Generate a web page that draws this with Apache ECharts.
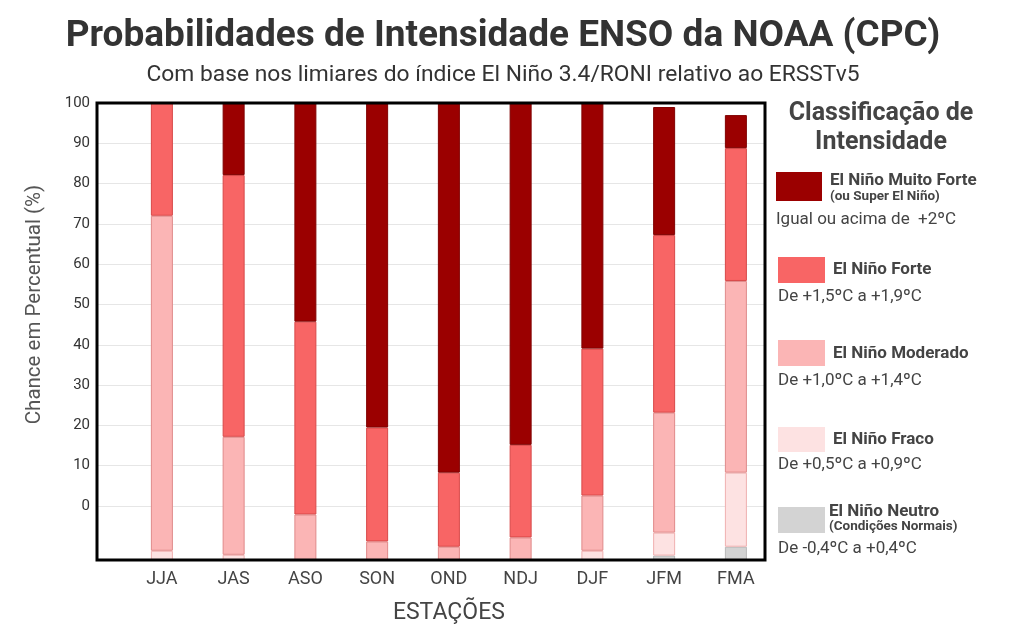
<!DOCTYPE html>
<html><head><meta charset="utf-8">
<script src="https://cdn.jsdelivr.net/npm/echarts@6/dist/echarts.min.js"></script>
<style>html,body{margin:0;padding:0;background:#fff}#c{width:1013px;height:644px}</style>
</head><body><div id="c"></div>
<script>
const categories = ['JJA','JAS','ASO','SON','OND','NDJ','DJF','JFM','FMA'];
// segment heights in axis units, stacked from the chart floor (-13.5)
const floorOffset = [-13.5,-13.5,-13.5,-13.5,-13.5,-13.5,-13.5,-13.5,-13.5];
const neutro     = [0, 0, 0, 0, 0, 0, 0, 1.1, 3.3];
const fraco      = [2.3, 1.3, 0, 0, 0, 0, 2.3, 5.7, 18.4];
const moderado   = [83.2, 29.3, 11.3, 4.6, 3.3, 5.6, 13.7, 29.8, 47.6];
const forte      = [28, 65, 47.9, 28.3, 18.4, 23, 36.5, 44.1, 33];
const muitoForte = [0, 17.9, 54.3, 80.6, 91.8, 84.9, 61, 31.8, 8.2];
const yTicks = [0,10,20,30,40,50,60,70,80,90,100];

const FONT = 'Roboto';
function seg(name, data, color, border){
  return {name, type:'bar', stack:'s', stackStrategy:'all', data, xAxisIndex:2, yAxisIndex:2,
    barWidth:22, itemStyle:{color, borderColor:border, borderWidth:1}};
}
const legendItems = [
  {y:172,h:29,x:776,w:46,c:'#9b0000',t1:'El Niño Muito Forte',t1y:181,t2:'(ou Super El Niño)',t2y:197,tx:830,r:'Igual ou acima de  +2ºC',rx:776,ry:220},
  {y:257,h:26,x:778,w:47,c:'#f86565',t1:'El Niño Forte',t1y:270,tx:833,r:'De +1,5ºC a +1,9ºC',rx:778,ry:297},
  {y:340,h:26,x:778,w:47,c:'#fbb5b5',t1:'El Niño Moderado',t1y:354,tx:833,r:'De +1,0ºC a +1,4ºC',rx:778,ry:381},
  {y:427,h:25,x:778,w:47,c:'#fde2e2',t1:'El Niño Fraco',t1y:440,tx:833,r:'De +0,5ºC a +0,9ºC',rx:778,ry:465},
  {y:507,h:26,x:778,w:47,c:'#d3d3d3',t1:'El Niño Neutro',t1y:512,t2:'(Condições Normais)',t2y:527,tx:829,r:'De -0,4ºC a +0,4ºC',rx:778,ry:549}
];
const graphics = [
  {type:'text',x:503,y:37,style:{text:'Probabilidades de Intensidade ENSO da NOAA (CPC)',font:'bold 37px '+FONT,fill:'#333',align:'center',verticalAlign:'middle'}},
  {type:'text',x:503,y:75,style:{text:'Com base nos limiares do índice El Niño 3.4/RONI relativo ao ERSSTv5',font:'22.8px '+FONT,fill:'#333',align:'center',verticalAlign:'middle'}},
  {type:'text',x:881,y:114,style:{text:'Classificação de',font:'bold 25px '+FONT,fill:'#444',align:'center',verticalAlign:'middle'}},
  {type:'text',x:881,y:143,style:{text:'Intensidade',font:'bold 25px '+FONT,fill:'#444',align:'center',verticalAlign:'middle'}},
];
legendItems.forEach(it=>{
  graphics.push({type:'rect',shape:{x:it.x,y:it.y,width:it.w,height:it.h},style:{fill:it.c}});
  graphics.push({type:'text',x:it.tx,y:it.t1y,style:{text:it.t1,font:'bold 17px '+FONT,fill:'#444',verticalAlign:'middle'}});
  if(it.t2) graphics.push({type:'text',x:it.tx,y:it.t2y,style:{text:it.t2,font:'bold 13.5px '+FONT,fill:'#444',verticalAlign:'middle'}});
  graphics.push({type:'text',x:it.rx,y:it.ry,style:{text:it.r,font:'17px '+FONT,fill:'#444',verticalAlign:'middle'}});
});

const chart = echarts.init(document.getElementById('c'));
chart.setOption({
  animation:false,
  textStyle:{fontFamily:FONT},
  grid:[
    {left:97,right:248,top:103,bottom:84,show:true,borderColor:'#000',borderWidth:3,z:10},
    {left:97,right:248,top:103,bottom:138},
    {left:126,right:241.25,top:103,bottom:84}
  ],
  xAxis:[
    {gridIndex:0,type:'value',show:false},
    {gridIndex:1,type:'value',show:false},
    {gridIndex:2,type:'category',data:categories,axisLine:{show:false},axisTick:{show:false},
     axisLabel:{fontSize:18,color:'#444',margin:10},
     name:'ESTAÇÕES',nameLocation:'middle',nameGap:42,nameTextStyle:{fontSize:23,color:'#444'}}
  ],
  yAxis:[
    {gridIndex:0,type:'value',show:false},
    {gridIndex:1,type:'value',min:0,max:100,interval:10,axisLine:{show:false},axisTick:{show:false},
     axisLabel:{fontSize:15,color:'#333',margin:7},splitLine:{lineStyle:{color:'#e6e6e6'}},
     name:'Chance em Percentual (%)',nameLocation:'middle',nameGap:52,nameTextStyle:{fontSize:20.5,color:'#555'}},
    {gridIndex:2,type:'value',min:-13.5,max:100,show:false,splitLine:{show:false}}
  ],
  series:[
    {name:'base',type:'bar',stack:'s',stackStrategy:'all',data:floorOffset,xAxisIndex:2,yAxisIndex:2,barWidth:22,itemStyle:{color:'transparent'},silent:true},
    seg('Neutro',neutro,'#d3d3d3','#b8b8b8'),
    seg('Fraco',fraco,'#fde2e2','#f0b0b0'),
    seg('Moderado',moderado,'#fbb5b5','#e08a8a'),
    seg('Forte',forte,'#f86565','#d84848'),
    seg('Muito Forte',muitoForte,'#9b0000','#800000')
  ],
  graphic:graphics
});
</script></body></html>
